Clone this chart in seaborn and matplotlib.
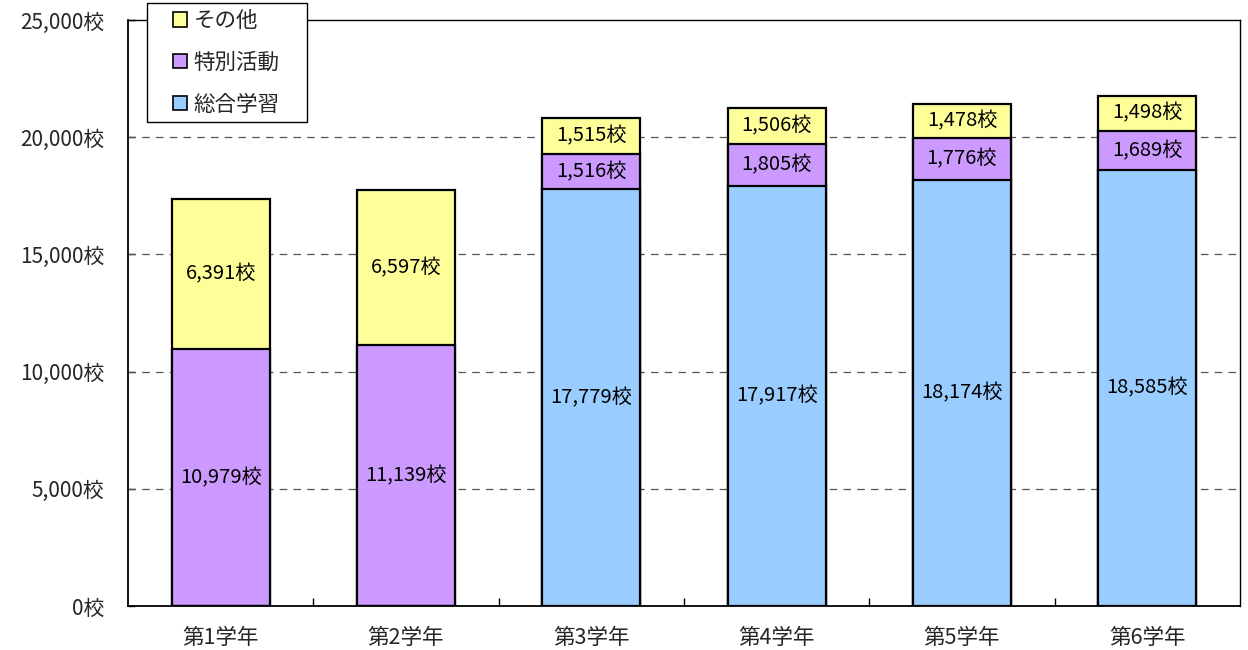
import matplotlib
matplotlib.use("Agg")
import matplotlib.pyplot as plt
import seaborn as sns
import pandas as pd
import numpy as np
from matplotlib.patches import Patch, Rectangle
from matplotlib.ticker import FuncFormatter, FixedLocator

categories = ["第1学年", "第2学年", "第3学年", "第4学年", "第5学年", "第6学年"]
sogo = [0, 0, 17779, 17917, 18174, 18585]
tokubetsu = [10979, 11139, 1516, 1805, 1776, 1689]
sonota = [6391, 6597, 1515, 1506, 1478, 1498]
series_names = ["総合学習", "特別活動", "その他"]
series_colors = ["#99CCFF", "#CC99FF", "#FFFF99"]

sns.set_theme(style="white")
plt.rcParams['font.family'] = ['Noto Sans CJK JP', 'DejaVu Sans']

df = pd.DataFrame({"cat": categories, "s1": sogo, "s2": tokubetsu, "s3": sonota})
df["c1"] = df["s1"]
df["c2"] = df["s1"] + df["s2"]
df["c3"] = df["c2"] + df["s3"]

fig = plt.figure(figsize=(12.48, 6.5), dpi=100)
ax = fig.add_axes([128/1248, 1 - 606/650, (1240-128)/1248, (606-20)/650])

width = 0.53
for col, color in zip(["c3", "c2", "c1"], series_colors[::-1]):
    sns.barplot(data=df, x="cat", y=col, color=color, ax=ax, width=width,
                edgecolor="black", linewidth=1.6, saturation=1, zorder=3)

# labels
for i in range(len(categories)):
    bottoms = [0, sogo[i], sogo[i] + tokubetsu[i]]
    vals = [sogo[i], tokubetsu[i], sonota[i]]
    for b, v in zip(bottoms, vals):
        if v > 0:
            ax.text(i, b + v / 2, f"{v:,}校", ha="center", va="center",
                    fontsize=14.5, color="black", zorder=5)

ax.set_xlim(-0.5, 5.5)
ax.set_ylim(0, 25000)
ax.set_yticks(np.arange(0, 25001, 5000))
ax.yaxis.set_major_formatter(FuncFormatter(lambda v, p: f"{int(v):,}校"))
ax.set_xlabel("")
ax.set_ylabel("")
ax.tick_params(axis="y", direction="in", length=5, width=1, labelsize=15, color="black", left=True, pad=17)
ax.tick_params(axis="x", which="major", length=0, labelsize=15.5, pad=15)
ax.xaxis.set_minor_locator(FixedLocator([0.5, 1.5, 2.5, 3.5, 4.5]))
ax.tick_params(axis="x", which="minor", direction="in", length=6, width=1, color="black", bottom=True)

for y in [5000, 10000, 15000, 20000]:
    ax.axhline(y, color="#555555", linestyle=(0, (6, 5)), linewidth=0.9, zorder=1)

for s in ax.spines.values():
    s.set_visible(True)
    s.set_color("black")
    s.set_linewidth(1.0)
ax.spines["bottom"].set_linewidth(1.3)
ax.spines["left"].set_linewidth(1.3)

# legend box
box = Rectangle((147/1248, 1 - 122/650), 160/1248, 119/650, transform=fig.transFigure,
                facecolor="white", edgecolor="black", linewidth=1.0, clip_on=False, zorder=9)
ax.add_patch(box)

handles = [Patch(facecolor=c, edgecolor="black", linewidth=1.2) for c in series_colors[::-1]]
leg = ax.legend(handles, series_names[::-1], loc="upper left",
                bbox_to_anchor=(173/1248, 1 - 10/650), bbox_transform=fig.transFigure,
                fontsize=15.5, frameon=False,
                handlelength=0.65, handleheight=0.65, handletextpad=0.3,
                labelspacing=0.92, borderpad=0, borderaxespad=0)
leg.set_zorder(10)

fig.savefig("out.png", dpi=100, facecolor="white")
